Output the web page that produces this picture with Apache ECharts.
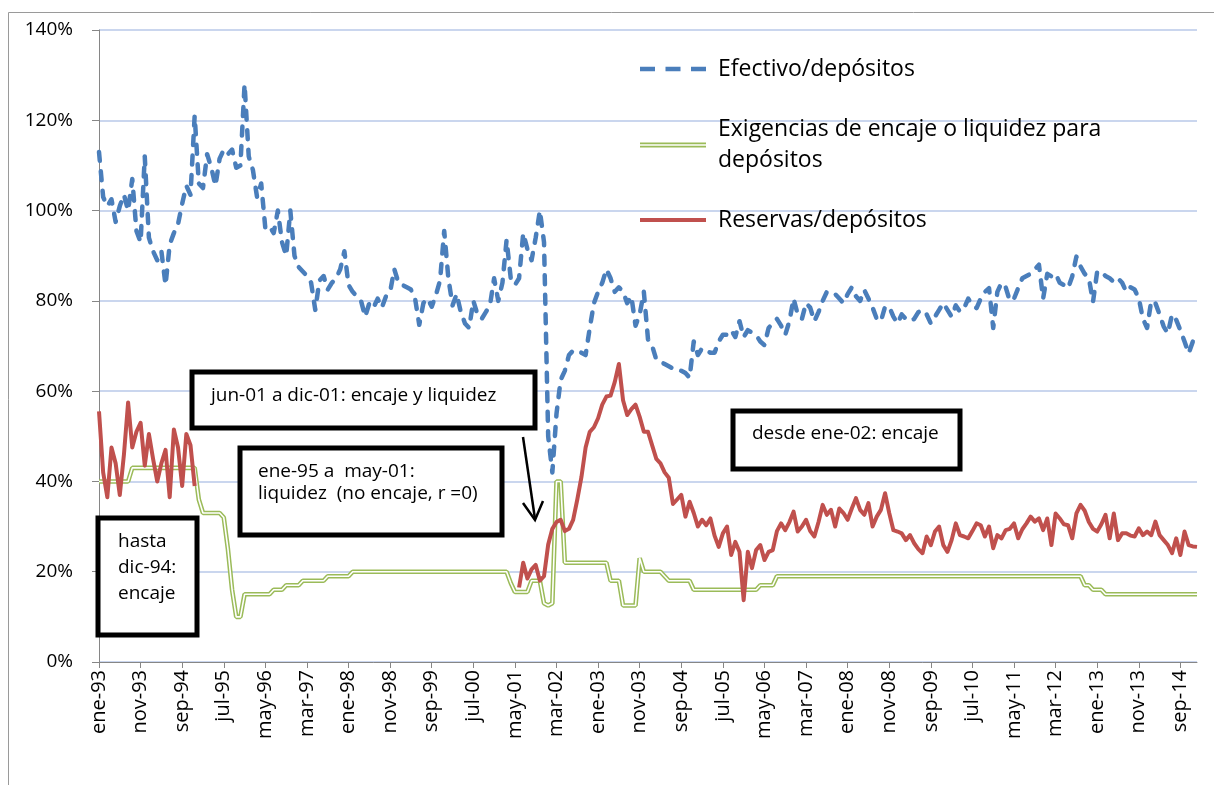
<!DOCTYPE html>
<html>
<head>
<meta charset="utf-8">
<style>
  html, body { margin: 0; padding: 0; background: #fff; }
  #main { width: 1214px; height: 785px; }
</style>
<script src="https://cdn.jsdelivr.net/npm/echarts@6/dist/echarts.min.js"></script>
</head>
<body>
<div id="main"></div>
<script>
// month names and years for the category axis (ene-93 ... ene-15)
var meses = ['ene', 'feb', 'mar', 'abr', 'may', 'jun', 'jul', 'ago', 'sep', 'oct', 'nov', 'dic'];
var anios = ['93', '94', '95', '96', '97', '98', '99', '00', '01', '02', '03', '04',
  '05', '06', '07', '08', '09', '10', '11', '12', '13', '14', '15'];

// Efectivo/depositos, % (one row per year)
var efectivo = [
  113, 103, 101, 102.5, 97.5, 101, 103.5, 100, 107, 95.5, 93, 112,
  94, 91, 89, 91, 83.5, 92.5, 95, 97, 101.5, 105.5, 103.5, 121,
  106, 105, 112.5, 109.5, 105.5, 111.5, 113.5, 112.5, 113.5, 109.5, 110, 128,
  112, 109, 103, 106, 96, 96.5, 95, 100, 93, 90, 100, 90,
  87.5, 86.5, 85.5, 84, 78, 84.5, 85.5, 82.5, 84, 85, 87, 91,
  83.5, 82, 81, 80, 76.5, 79.5, 78.5, 80.5, 78.5, 81, 82, 87,
  84, 83.5, 83, 82.5, 80.5, 74.7, 79.5, 80.5, 78.7, 81.3, 84.5, 95.5,
  85, 79, 81.5, 77.5, 75, 74, 80, 77, 76, 77.5, 79, 85,
  80, 84, 93.5, 85, 83.5, 85, 95, 91.5, 89, 94, 100, 93,
  50, 42, 55, 62.5, 64.5, 68, 69, 69, 68.5, 68, 74, 79.5,
  82, 84, 87, 85, 82, 83, 82, 79.5, 81, 74.5, 77, 82,
  71.5, 70, 67, 66.5, 66, 65.5, 65, 65, 64.5, 64, 63, 71,
  68, 69.5, 69, 68.5, 68.5, 71, 72.5, 72.5, 73.5, 72, 75.5, 72,
  73.5, 73, 72.4, 71, 70.2, 74, 75, 76, 74.5, 72.5, 75.5, 80.5,
  77, 76, 79.5, 78.5, 75.5, 77.5, 80, 82, 81.5, 81.5, 80.5, 79.5,
  81.5, 83, 81, 80, 82.4, 80.5, 78.5, 76, 75.5, 78.7, 78.7, 76.5,
  75, 77, 76, 75.5, 76, 77.5, 78, 77, 75, 76.5, 78, 79.5,
  78, 76.5, 79, 77.6, 78.4, 80.5, 79, 78.4, 80.5, 82, 82.8, 74,
  82, 84, 83, 80, 80.5, 82.8, 85, 85.5, 86, 87, 88, 80.5,
  86, 85.4, 86, 84, 83.5, 82.8, 85.4, 89.8, 87.6, 86, 85, 79.8,
  86.5, 86.5, 85.5, 85, 84.2, 85, 84, 82, 83, 82.5, 80.6, 76,
  74, 80, 79.5, 77, 74.3, 72.8, 77, 75.8, 73.5, 71, 68.4, 71,
  71.5
];

// Exigencias de encaje o liquidez para depositos, %
var exigencias = [
  40, 40, 40, 40, 40, 40, 40, 40, 43, 43, 43, 43,
  43, 43, 43, 43, 43, 43, 43, 43, 43, 43, 43, 43,
  36, 33, 33, 33, 33, 33, 32, 25, 16, 10, 10, 15,
  15, 15, 15, 15, 15, 15, 16, 16, 16, 17, 17, 17,
  17, 18, 18, 18, 18, 18, 18, 19, 19, 19, 19, 19,
  19, 20, 20, 20, 20, 20, 20, 20, 20, 20, 20, 20,
  20, 20, 20, 20, 20, 20, 20, 20, 20, 20, 20, 20,
  20, 20, 20, 20, 20, 20, 20, 20, 20, 20, 20, 20,
  20, 20, 20, 17.5, 15.5, 15.5, 15.5, 15.5, 18, 18, 18, 13,
  12.5, 13, 40, 40, 22, 22, 22, 22, 22, 22, 22, 22,
  22, 22, 22, 18, 18, 18, 12.5, 12.5, 12.5, 12.5, 23, 20,
  20, 20, 20, 20, 19, 18, 18, 18, 18, 18, 18, 16,
  16, 16, 16, 16, 16, 16, 16, 16, 16, 16, 16, 16,
  16, 16, 16, 17, 17, 17, 17, 19, 19, 19, 19, 19,
  19, 19, 19, 19, 19, 19, 19, 19, 19, 19, 19, 19,
  19, 19, 19, 19, 19, 19, 19, 19, 19, 19, 19, 19,
  19, 19, 19, 19, 19, 19, 19, 19, 19, 19, 19, 19,
  19, 19, 19, 19, 19, 19, 19, 19, 19, 19, 19, 19,
  19, 19, 19, 19, 19, 19, 19, 19, 19, 19, 19, 19,
  19, 19, 19, 19, 19, 19, 19, 19, 19, 17, 17, 16,
  16, 16, 15, 15, 15, 15, 15, 15, 15, 15, 15, 15,
  15, 15, 15, 15, 15, 15, 15, 15, 15, 15, 15, 15,
  15
];

// Reservas/depositos, % (no data ene-95 .. may-01)
var reservas = [
  55.5, 42, 36.5, 47.5, 44, 37, 46, 57.5, 47.5, 51, 53, 43.5,
  50.5, 45, 40, 44, 47, 36.5, 51.5, 47.5, 39, 50.5, 48, 39,
  null, null, null, null, null, null, null, null, null, null, null, null,
  null, null, null, null, null, null, null, null, null, null, null, null,
  null, null, null, null, null, null, null, null, null, null, null, null,
  null, null, null, null, null, null, null, null, null, null, null, null,
  null, null, null, null, null, null, null, null, null, null, null, null,
  null, null, null, null, null, null, null, null, null, null, null, null,
  null, null, null, null, null, 16.5, 22, 18.5, 20.5, 21.5, 18, 19,
  26, 29.5, 31, 31.5, 29, 29.5, 31.5, 36, 41, 47.5, 51, 52,
  54, 57, 58.8, 59, 62, 66, 58, 54.7, 56, 57, 54.3, 51,
  51, 48, 45, 44, 42, 40.8, 35, 36, 37, 32.2, 35.5, 33,
  30, 31.5, 30.3, 31.8, 28, 25.5, 28.5, 30, 23.7, 26.6, 24.4, 13.7,
  24.4, 20.8, 24.8, 25.9, 22.6, 24.4, 24.8, 29, 30.7, 29.2, 31, 33.3,
  28.9, 30, 31.5, 29, 27.8, 31, 34.8, 32.6, 33.7, 30, 34, 33,
  31.5, 34, 36.3, 33.7, 32.6, 35.2, 30, 32.2, 33.7, 37.4, 33, 29.2,
  28.9, 28.5, 27, 28.1, 26.3, 25, 24.1, 27.8, 25.9, 28.9, 30, 25.9,
  24.4, 27, 30.7, 28.1, 27.8, 27.4, 29, 30.7, 30.3, 27.8, 30, 25.2,
  28.1, 27.4, 29.2, 29.5, 30.7, 27.4, 29.4, 30.7, 32.2, 31.1, 31.8, 29.2,
  31.8, 25.9, 32.9, 31.8, 30.5, 30.3, 27.4, 32.9, 34.8, 33.5, 31, 29.5,
  28.9, 30.5, 32.6, 27.4, 32.9, 27, 28.5, 28.5, 28, 27.8, 29.6, 28.1,
  28.9, 28.1, 31.1, 28.1, 27, 25.9, 24.1, 27.4, 23.7, 28.9, 25.9, 25.6,
  25.5
];

var categorias = [];
anios.forEach(function (a) {
  meses.forEach(function (m) {
    if (categorias.length < efectivo.length) categorias.push(m + '-' + a);
  });
});

var fuente = "'Open Sans', sans-serif";
var nombreEfectivo = 'Efectivo/depósitos';
var nombreExigencias = 'Exigencias de encaje o liquidez para depósitos';
var nombreReservas = 'Reservas/depósitos';

var myChart = echarts.init(document.getElementById('main'));

var legendText = { fontSize: 23, fontFamily: fuente, color: '#000', lineHeight: 30, padding: [0, 0, 0, 7] };

var option = {
  animation: false,
  grid: { left: 99, right: 17, top: 30, bottom: 123 },
  legend: [
    {
      data: [nombreEfectivo], left: 640, top: 54, padding: 0,
      itemWidth: 66, itemHeight: 4.5,
      icon: 'path://M0,0H15V4.5H0Z M25.5,0H40.5V4.5H25.5Z M51,0H66V4.5H51Z',
      textStyle: legendText
    },
    {
      data: [nombreExigencias], left: 640, top: 98.5, padding: 0,
      itemWidth: 66, itemHeight: 4.8,
      icon: 'path://M0,0H66V1.6H0Z M0,3.2H66V4.8H0Z',
      formatter: function () { return 'Exigencias de encaje o liquidez para\ndepósitos'; },
      textStyle: { fontSize: 23, fontFamily: fuente, color: '#000', lineHeight: 31, padding: [31, 0, 0, 7] }
    },
    {
      data: [nombreReservas], left: 640, top: 205, padding: 0,
      itemWidth: 66, itemHeight: 4,
      icon: 'path://M0,0H66V4H0Z',
      textStyle: legendText
    }
  ],
  xAxis: {
    type: 'category',
    data: categorias,
    boundaryGap: false,
    axisLine: { lineStyle: { color: '#868686', width: 1 } },
    axisTick: { interval: 9, length: 6, lineStyle: { color: '#868686' } },
    axisLabel: { interval: 9, rotate: 90, fontSize: 20, fontFamily: fuente, color: '#000', margin: 8 },
    splitLine: { show: false }
  },
  yAxis: {
    type: 'value',
    min: 0,
    max: 140,
    interval: 20,
    axisLine: { show: true, lineStyle: { color: '#868686', width: 1 } },
    axisTick: { show: true, length: 7, lineStyle: { color: '#868686' } },
    axisLabel: { formatter: '{value}%', fontSize: 19, fontFamily: fuente, color: '#000', margin: 26 },
    splitLine: { lineStyle: { color: '#B9C9E8', width: 1.5 } }
  },
  series: [
    {
      name: nombreEfectivo, type: 'line', data: efectivo, symbol: 'none',
      color: '#4A7EBB',
      lineStyle: { width: 4.5, type: [9, 10.5], cap: 'round', join: 'round' },
      z: 2
    },
    {
      name: nombreExigencias, type: 'line', data: exigencias, symbol: 'none',
      color: '#9BBB59', lineStyle: { width: 4.6 }, z: 3
    },
    {
      name: 'interior', type: 'line', data: exigencias, symbol: 'none',
      color: '#ffffff', lineStyle: { width: 1.6 }, z: 3, silent: true
    },
    {
      name: nombreReservas, type: 'line', data: reservas, symbol: 'none',
      color: '#C0504D', lineStyle: { width: 4, join: 'round' }, z: 4
    }
  ],
  graphic: [
    { type: 'rect', z: -10, silent: true, shape: { x: 8.5, y: 12.5, width: 1230, height: 800 },
      style: { fill: 'none', stroke: '#9a9a9a', lineWidth: 1 } },
    { type: 'rect', z: 100, shape: { x: 192, y: 372, width: 343, height: 56 },
      style: { fill: '#fff', stroke: '#000', lineWidth: 5 } },
    { type: 'text', z: 101, x: 211, y: 396,
      style: { text: 'jun-01 a dic-01: encaje y liquidez', fontSize: 19, fontFamily: fuente, fill: '#000', textVerticalAlign: 'middle' } },
    { type: 'rect', z: 100, shape: { x: 240, y: 448, width: 262, height: 87 },
      style: { fill: '#fff', stroke: '#000', lineWidth: 5 } },
    { type: 'text', z: 101, x: 258, y: 461,
      style: { text: 'ene-95 a  may-01:\nliquidez  (no encaje, r =0)', fontSize: 19, lineHeight: 22, fontFamily: fuente, fill: '#000', textVerticalAlign: 'top' } },
    { type: 'rect', z: 100, shape: { x: 733, y: 411, width: 227, height: 58 },
      style: { fill: '#fff', stroke: '#000', lineWidth: 5 } },
    { type: 'text', z: 101, x: 752, y: 434,
      style: { text: 'desde ene-02: encaje', fontSize: 19, fontFamily: fuente, fill: '#000', textVerticalAlign: 'middle' } },
    { type: 'rect', z: 100, shape: { x: 98, y: 518, width: 99, height: 117 },
      style: { fill: '#fff', stroke: '#000', lineWidth: 5 } },
    { type: 'text', z: 101, x: 118, y: 529,
      style: { text: 'hasta\ndic-94:\nencaje', fontSize: 19, lineHeight: 26, fontFamily: fuente, fill: '#000', textVerticalAlign: 'top' } },
    { type: 'polyline', z: 101, shape: { points: [[523, 437], [535, 519]] },
      style: { stroke: '#000', lineWidth: 2.5, fill: null } },
    { type: 'polyline', z: 101, shape: { points: [[523, 503], [535, 520], [543, 501]] },
      style: { stroke: '#000', lineWidth: 2.5, fill: null } }
  ]
};

myChart.setOption(option);
</script>
</body>
</html>
